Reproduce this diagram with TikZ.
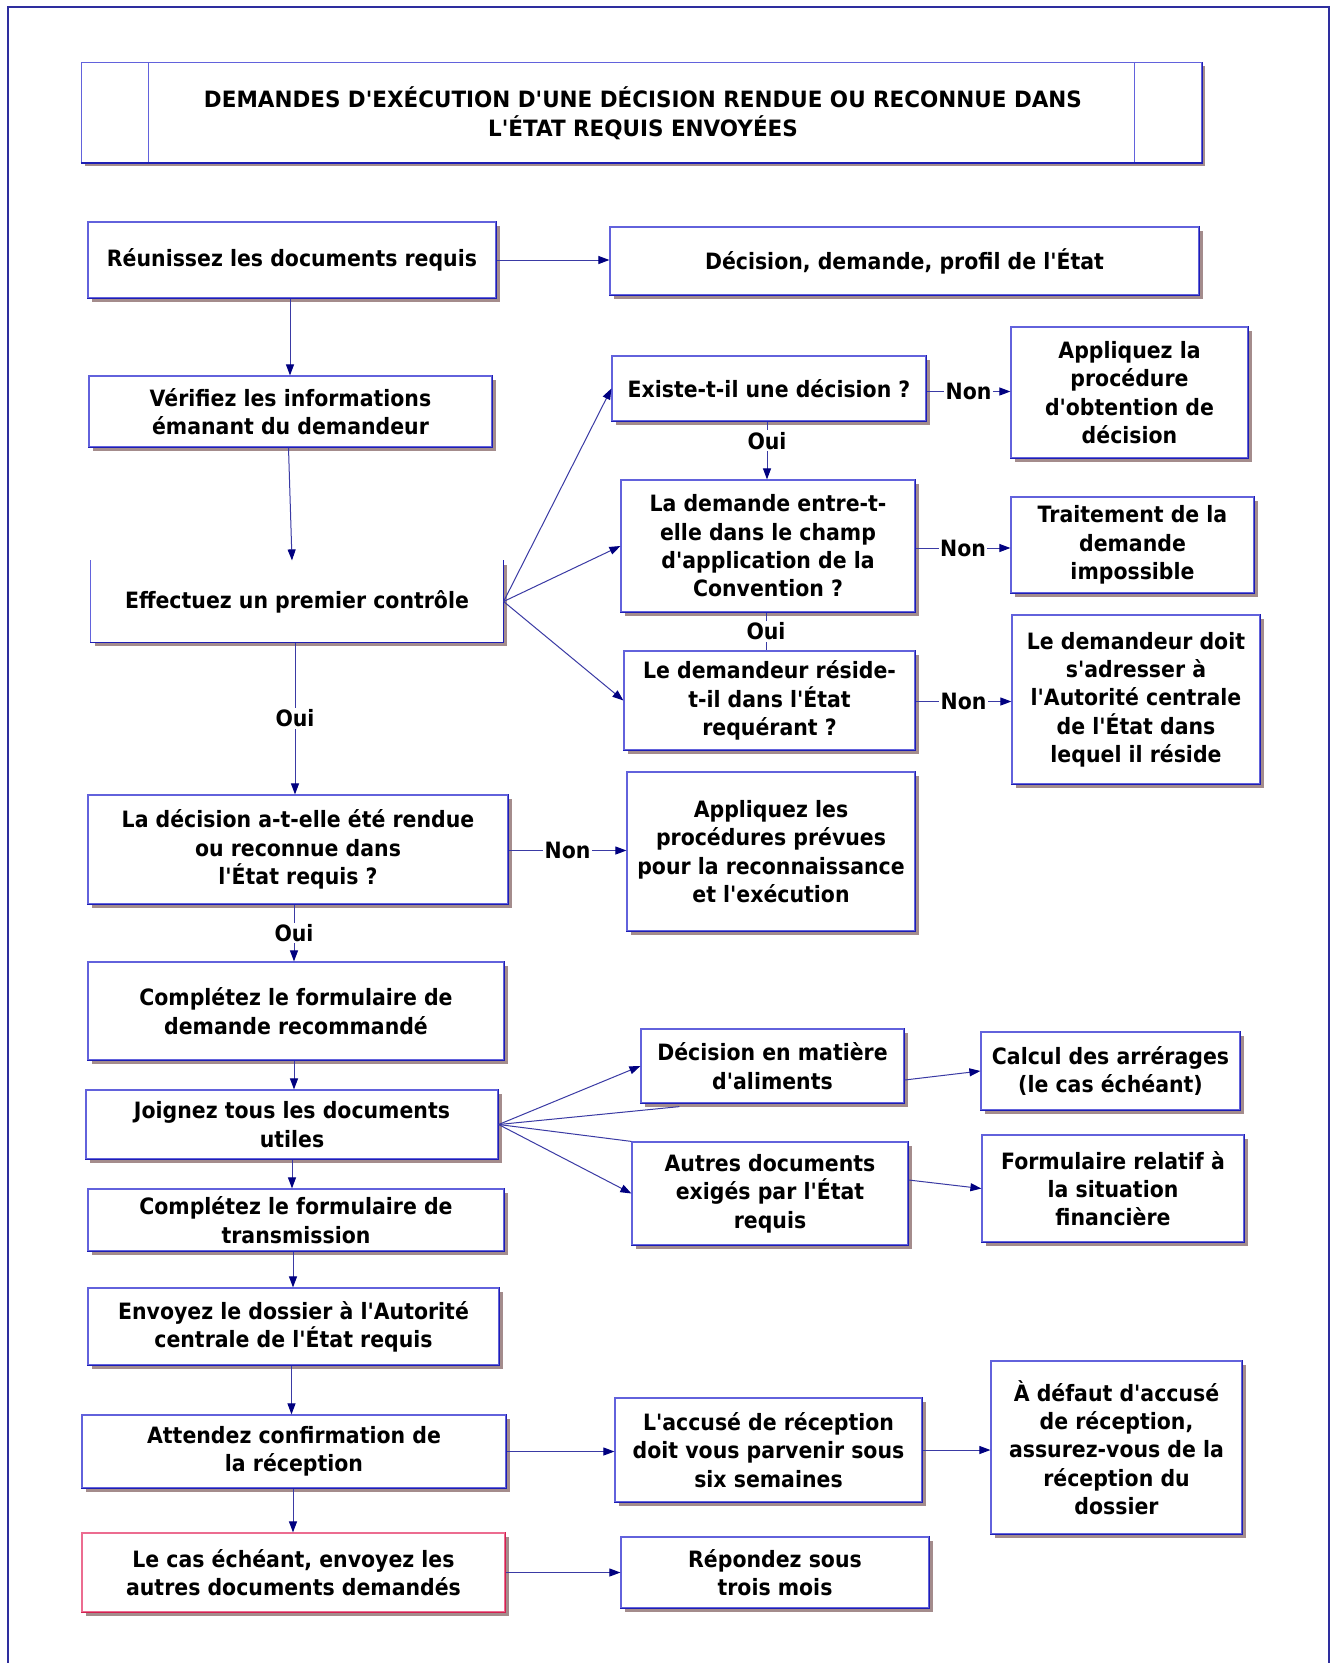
\documentclass[tikz,border=0pt]{standalone}
\usepackage{fontspec}
\setmainfont{DejaVu Sans}[FakeStretch=0.91, Ligatures=TeXOff]
\newfontfamily\headfont{DejaVu Sans}[FakeStretch=0.955, Ligatures=TeXOff]
\usetikzlibrary{arrows.meta,shadows,calc}

\definecolor{frameblue}{HTML}{2E2E9E}
\definecolor{boxlt}{HTML}{6262DC}
\definecolor{boxdk}{HTML}{1E1EB4}
\definecolor{shad}{HTML}{A48C8C}
\definecolor{wire}{HTML}{3A3AA4}
\definecolor{tipc}{HTML}{000080}
\definecolor{redlt}{HTML}{EC6C90}
\definecolor{reddk}{HTML}{D42050}

\newcommand\boxtext{\fontsize{22.5pt}{28.3pt}\selectfont\bfseries}
\newcommand\headtext{\headfont\fontsize{22.5pt}{28.6pt}\selectfont\bfseries}

% box placed by its corners: name, extra style, x1, y1, x2, y2, text
\newcommand\pbox[7]{%
  \node[box, #2, minimum width={(#5-#3)*1pt}, minimum height={(#6-#4)*1pt}]
    (#1) at ({(#3+#5)/2},{(#4+#6)/2}) {#7};}

\begin{document}
\begin{tikzpicture}[x=1pt,y=-1pt,
  box/.style={draw=boxlt, line width=1.2pt, fill=white, align=center,
    inner sep=2pt, font=\boxtext, text=black,
    drop shadow={shadow xshift=3.5pt,shadow yshift=-3.5pt,fill=shad,opacity=1}},
  opentop/.style={draw=none},
  lab/.style={fill=white, inner sep=1.5pt, font=\boxtext, text=black},
  conn/.style={draw=wire, line width=1pt,
    -{Triangle[length=11pt,width=8pt,color=tipc,fill=tipc]}},
  plain/.style={draw=wire, line width=1pt}]

\useasboundingbox (0,0) rectangle (1337,1663);
\fill[white] (0,0) rectangle (1337,1663);

% outer frame, open at the bottom
\draw[frameblue, line width=2pt] (8,1663) -- (8,6.7) -- (1329,6.7) -- (1329,1663);

% title
\pbox{title}{}{81.5}{62.5}{1201.5}{162.3}{}
\draw[boxlt, line width=1pt] (148.5,62.5) -- (148.5,162.3);
\draw[boxlt, line width=1pt] (1134.5,62.5) -- (1134.5,162.3);
\node[font=\headtext, align=center, text=black] (titletext) at (643,113)
  {DEMANDES D'EXÉCUTION D'UNE DÉCISION RENDUE OU RECONNUE DANS\\L'ÉTAT REQUIS ENVOYÉES};

% left column
\pbox{reun}{}{88}{222}{496}{298}{Réunissez les documents requis}
\pbox{verif}{}{89}{376}{492}{447}{Vérifiez les informations\\émanant du demandeur}
\pbox{effect}{opentop}{91}{561}{503}{642}{Effectuez un premier contrôle}
\draw[boxlt, line width=1.2pt] (effect.north west) -- (effect.south west)
  -- (effect.south east) -- (effect.north east);
\pbox{rendue}{}{88}{795}{508}{904}{La décision a-t-elle été rendue\\ou reconnue dans\\l'État requis ?}
\pbox{formrec}{}{88}{962}{504}{1060}{Complétez le formulaire de\\demande recommandé}
\pbox{joign}{}{86}{1090}{498}{1159}{Joignez tous les documents\\utiles}
\pbox{formtr}{}{88}{1189}{504}{1251}{Complétez le formulaire de\\transmission}
\pbox{envoy}{}{88}{1288}{499}{1365}{Envoyez le dossier à l'Autorité\\centrale de l'État requis}
\pbox{attend}{}{82}{1415}{506}{1488}{Attendez confirmation de\\la réception}
\pbox{lecas}{draw=redlt}{82}{1533}{505}{1612}{Le cas échéant, envoyez les\\autres documents demandés}

% middle column
\pbox{profil}{}{610}{227}{1199}{295}{Décision, demande, profil de l'État}
\pbox{existe}{}{612}{356}{926}{421}{Existe-t-il une décision ?}
\pbox{champ}{}{621}{480}{915}{612}{La demande entre-t-\\elle dans le champ\\d'application de la\\Convention ?}
\pbox{reside}{}{624}{651}{915}{750}{Le demandeur réside-\\t-il dans l'État\\requérant ?}
\pbox{proced}{}{627}{772}{915}{931}{Appliquez les\\procédures prévues\\pour la reconnaissance\\et l'exécution}
\pbox{alim}{}{641}{1029}{904}{1103}{Décision en matière\\d'aliments}
\pbox{autres}{}{632}{1142}{908}{1245}{Autres documents\\exigés par l'État\\requis}
\pbox{accuse}{}{615}{1398}{922}{1502}{L'accusé de réception\\doit vous parvenir sous\\six semaines}
\pbox{repond}{}{621}{1537}{929}{1608}{Répondez sous\\trois mois}

% right column
\pbox{obtent}{}{1011}{327}{1248}{458}{Appliquez la\\procédure\\d'obtention de\\décision}
\pbox{imposs}{}{1011}{497}{1254}{593}{Traitement de la\\demande\\impossible}
\pbox{adress}{}{1012}{615}{1260}{784}{Le demandeur doit\\s'adresser à\\l'Autorité centrale\\de l'État dans\\lequel il réside}
\pbox{arrer}{}{981}{1032}{1240}{1110}{Calcul des arrérages\\(le cas échéant)}
\pbox{finan}{}{982}{1135}{1244}{1242}{Formulaire relatif à\\la situation\\financière}
\pbox{defaut}{}{991}{1361}{1242}{1534}{À défaut d'accusé\\de réception,\\assurez-vous de la\\réception du\\dossier}

% darker lower and right edges
\foreach \n in {title,reun,verif,effect,rendue,formrec,joign,formtr,envoy,attend,
  profil,existe,champ,reside,proced,alim,autres,accuse,repond,
  obtent,imposs,adress,arrer,finan,defaut}
  \draw[boxdk, line width=1.2pt] (\n.south west) -- (\n.south east) -- (\n.north east);
\draw[reddk, line width=1.2pt] (lecas.south west) -- (lecas.south east) -- (lecas.north east);

% connectors
\draw[conn] (reun.east) -- (reun.east -| profil.west);
\draw[conn] ([xshift=-2pt]reun.south) -- ([xshift=-2pt]reun.south |- verif.north);
\draw[conn] ([xshift=-2pt]verif.south) -- ([xshift=-5pt]effect.north);

\draw[conn] (effect.east) -- (existe.west);
\draw[conn] (effect.east) -- (champ.west);
\draw[conn] (effect.east) -- (reside.west);

\draw[conn] ([yshift=-3pt]existe.east) -- node[lab]{Non} ([yshift=-3pt]existe.east -| obtent.west);
\draw[conn] ([xshift=-2pt]existe.south) -- node[lab,pos=0.33]{Oui} ([xshift=-2pt]existe.south |- champ.north);
\draw[conn] ([yshift=-2pt]champ.east) -- node[lab]{Non} ([yshift=-2pt]champ.east -| imposs.west);
\draw[plain] ([xshift=-2pt]champ.south) -- node[lab]{Oui} ([xshift=-2pt]champ.south |- reside.north);
\draw[conn] ([yshift=-1pt]reside.east) -- node[lab]{Non} ([yshift=-1pt]reside.east -| adress.west);

\draw[conn] ([xshift=-2pt]effect.south) -- node[lab]{Oui} ([xshift=-2pt]effect.south |- rendue.north);
\draw[conn] ([yshift=-1pt]rendue.east) -- node[lab]{Non} ([yshift=-1pt]rendue.east -| proced.west);
\draw[conn] ([xshift=-4pt]rendue.south) -- node[lab]{Oui} ([xshift=-4pt]rendue.south |- formrec.north);
\draw[conn] ([xshift=-2pt]formrec.south) -- ([xshift=-2pt]formrec.south |- joign.north);
\draw[conn] (joign.south) -- (joign.south |- formtr.north);
\draw[conn] ([xshift=-3pt]formtr.south) -- ([xshift=-3pt]formtr.south |- envoy.north);
\draw[conn] ([xshift=-2pt]envoy.south) -- ([xshift=-2pt]envoy.south |- attend.north);
\draw[conn] ([xshift=-1pt]attend.south) -- ([xshift=-1pt]attend.south |- lecas.north);

\coordinate (alimfoot) at ($(alim.south west)+(39,3)$);
\draw[conn] (joign.east) -- (alim.west);
\draw[plain] (joign.east) -- (alimfoot);
\draw[plain] (joign.east) -- (autres.north west);
\draw[conn] (joign.east) -- (autres.west);

\draw[conn] ([yshift=-14pt]alim.east) -- (arrer.west);
\draw[conn] ([yshift=13.5pt]autres.east) -- (finan.west);

\draw[conn] (attend.east) -- (attend.east -| accuse.west);
\draw[conn] (accuse.east) -- (accuse.east -| defaut.west);
\draw[conn] (lecas.east) -- (lecas.east -| repond.west);

\end{tikzpicture}
\end{document}
